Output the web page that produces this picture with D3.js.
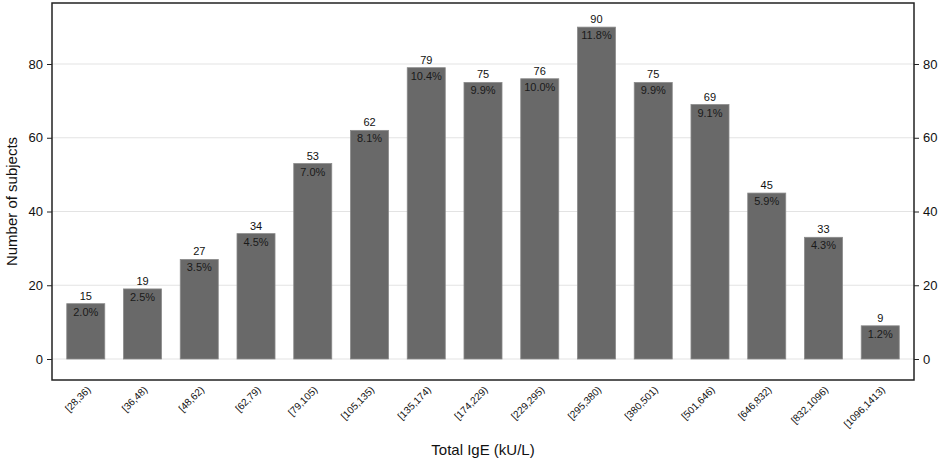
<!DOCTYPE html>
<html>
<head>
<meta charset="utf-8">
<script src="https://cdn.jsdelivr.net/npm/d3@7"></script>
<style>
  body { margin: 0; background: #fff; }
  svg text { font-family: "Liberation Sans", Arial, sans-serif; fill: #111; }
</style>
</head>
<body>
<div id="chart"></div>
<script>
// IgE bins and counts
const bins = ['[28,36)', '[36,48)', '[48,62)', '[62,79)', '[79,105)', '[105,135)', '[135,174)',
    '[174,229)', '[229,295)', '[295,380)', '[380,501)', '[501,646)', '[646,832)', '[832,1096)', '[1096,1413)'];
const counts = [15, 19, 27, 34, 53, 62, 79, 75, 76, 90, 75, 69, 45, 33, 9];
const percents = ['2.0%', '2.5%', '3.5%', '4.5%', '7.0%', '8.1%', '10.4%', '9.9%', '10.0%', '11.8%',
    '9.9%', '9.1%', '5.9%', '4.3%', '1.2%'];
const yTicks = [0, 20, 40, 60, 80];

const width = 938, height = 462;
const frame = { left: 52, right: 914, top: 3, bottom: 380 };

const svg = d3.select('#chart')
    .append('svg')
    .attr('width', width)
    .attr('height', height);

const x = d3.scaleBand()
    .domain(bins)
    .range([frame.left, frame.right])
    .paddingInner(0.33)
    .paddingOuter(0.26);

// y=0 at 359, y=80 at 64
const y = d3.scaleLinear()
    .domain([0, 80])
    .range([359, 64]);

// gridlines
svg.append('g')
    .selectAll('line')
    .data(yTicks)
    .enter()
    .append('line')
    .attr('x1', frame.left)
    .attr('x2', frame.right)
    .attr('y1', d => y(d))
    .attr('y2', d => y(d))
    .attr('stroke', '#e3e3e3')
    .attr('stroke-width', 1);

// bars
svg.append('g')
    .selectAll('rect')
    .data(counts)
    .enter()
    .append('rect')
    .attr('x', (d, i) => x(bins[i]))
    .attr('width', x.bandwidth())
    .attr('y', d => y(d))
    .attr('height', d => y(0) - y(d))
    .attr('fill', '#696969')
    .attr('stroke', '#8a8a8a')
    .attr('stroke-width', 0.8);

// count labels above the bars
svg.append('g')
    .selectAll('text')
    .data(counts)
    .enter()
    .append('text')
    .attr('x', (d, i) => x(bins[i]) + x.bandwidth() / 2)
    .attr('y', d => y(d) - 4)
    .attr('text-anchor', 'middle')
    .attr('font-size', 11)
    .text(d => d);

// percent labels inside the bars
svg.append('g')
    .selectAll('text')
    .data(counts)
    .enter()
    .append('text')
    .attr('x', (d, i) => x(bins[i]) + x.bandwidth() / 2)
    .attr('y', d => y(d) + 12)
    .attr('text-anchor', 'middle')
    .attr('font-size', 11)
    .style('fill', '#1a1a1a')
    .text((d, i) => percents[i]);

// frame
svg.append('rect')
    .attr('x', frame.left)
    .attr('y', frame.top)
    .attr('width', frame.right - frame.left)
    .attr('height', frame.bottom - frame.top)
    .attr('fill', 'none')
    .attr('stroke', '#222')
    .attr('stroke-width', 1.5);

// left and right axes
const leftAxis = svg.append('g')
    .attr('transform', `translate(${frame.left},0)`)
    .call(d3.axisLeft(y).tickValues(yTicks).tickSize(5).tickPadding(4));
const rightAxis = svg.append('g')
    .attr('transform', `translate(${frame.right},0)`)
    .call(d3.axisRight(y).tickValues(yTicks).tickSize(5).tickPadding(4));
[leftAxis, rightAxis].forEach(g => {
    g.select('.domain').remove();
    g.selectAll('.tick line').attr('stroke', '#222');
    g.selectAll('.tick text').attr('font-size', 13).style('font-family', '"Liberation Sans", Arial, sans-serif').attr('fill', '#111');
});

// x tick labels, rotated
svg.append('g')
    .selectAll('text')
    .data(bins)
    .enter()
    .append('text')
    .attr('transform', d => `translate(${x(d) + x.bandwidth() / 2 + 3},${frame.bottom + 8}) rotate(-45)`)
    .attr('text-anchor', 'end')
    .attr('dy', '0.35em')
    .attr('font-size', 10)
    .text(d => d);

// axis titles
svg.append('text')
    .attr('x', (frame.left + frame.right) / 2)
    .attr('y', 455)
    .attr('text-anchor', 'middle')
    .attr('font-size', 15)
    .text('Total IgE (kU/L)');

svg.append('text')
    .attr('transform', `translate(17,${(frame.top + frame.bottom) / 2 + 10}) rotate(-90)`)
    .attr('text-anchor', 'middle')
    .attr('font-size', 15)
    .text('Number of subjects');
</script>
</body>
</html>
